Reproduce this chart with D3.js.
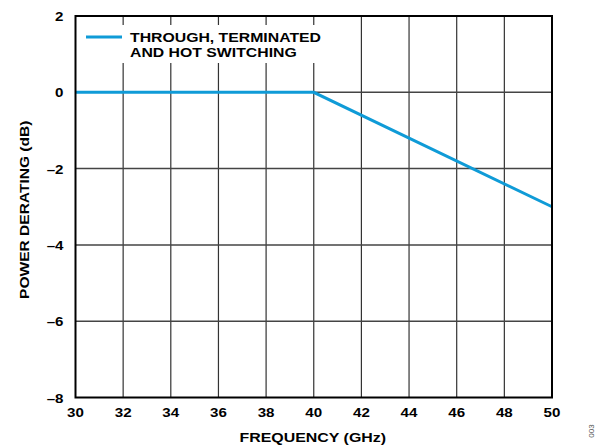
<!DOCTYPE html>
<html><head><meta charset="utf-8">
<script src="https://cdn.jsdelivr.net/npm/d3@7"></script>
<style>body{margin:0;background:#fff}text{font-family:Arial,"Liberation Sans",sans-serif;font-weight:bold}</style>
</head><body>
<svg id="c" width="600" height="447"></svg>
<script>
const freq = [30, 40, 50];
const derating = [0, 0, -3];
const xTicks = [30, 32, 34, 36, 38, 40, 42, 44, 46, 48, 50];
const yTicks = [2, 0, -2, -4, -6, -8];
const legendLines = ["THROUGH, TERMINATED", "AND HOT SWITCHING"];

const svg = d3.select("#c");
const L = 75.5, R = 552, T = 16, B = 397.5;
const x = d3.scaleLinear().domain([30, 50]).range([L, R]);
const y = d3.scaleLinear().domain([-8, 2]).range([B, T]);

function stretch(sel, f) {
  sel.each(function () {
    const w = this.getComputedTextLength();
    d3.select(this).attr("textLength", w * f).attr("lengthAdjust", "spacingAndGlyphs");
  });
}

// grid
svg.append("g").selectAll("line").data(xTicks.slice(1, -1)).join("line")
  .attr("x1", d => x(d)).attr("x2", d => x(d)).attr("y1", T).attr("y2", B)
  .attr("stroke", "#333").attr("stroke-width", 1.2);
svg.append("g").selectAll("line").data(yTicks.slice(1, -1)).join("line")
  .attr("x1", L).attr("x2", R).attr("y1", d => y(d)).attr("y2", d => y(d))
  .attr("stroke", "#444").attr("stroke-width", 1.5);

// legend background
svg.append("rect").attr("x", L + 2).attr("y", 25).attr("width", 265).attr("height", 38).attr("fill", "#fff");

// data line
svg.append("path").datum(freq.map((f, i) => [f, derating[i]]))
  .attr("d", d3.line().x(d => x(d[0])).y(d => y(d[1])))
  .attr("fill", "none").attr("stroke", "#0f9bd7").attr("stroke-width", 3);

// border
svg.append("rect").attr("x", L).attr("y", T).attr("width", R - L).attr("height", B - T)
  .attr("fill", "none").attr("stroke", "#000").attr("stroke-width", 2);

// legend
svg.append("line").attr("x1", 86).attr("x2", 122).attr("y1", 37).attr("y2", 37)
  .attr("stroke", "#0f9bd7").attr("stroke-width", 3);
svg.append("g").selectAll("text").data(legendLines).join("text")
  .attr("x", 130).attr("y", (d, i) => 42 + i * 14.5).attr("font-size", 13.5).text(d => d)
  .call(stretch, 1.17);

// axes labels
svg.append("g").selectAll("text").data(xTicks).join("text")
  .attr("x", d => x(d)).attr("y", 417).attr("text-anchor", "middle").attr("font-size", 13.5)
  .text(d => d).call(stretch, 1.12);
svg.append("g").selectAll("text").data(yTicks).join("text")
  .attr("x", 63.5).attr("y", d => y(d) + 5).attr("text-anchor", "end").attr("font-size", 13.5)
  .text(d => d < 0 ? "\u2013" + Math.abs(d) : d).call(stretch, 1.12);

svg.append("text").attr("x", (L + R) / 2 - 1).attr("y", 442).attr("text-anchor", "middle")
  .attr("font-size", 13.5).text("FREQUENCY (GHz)").call(stretch, 1.18);
svg.append("text").attr("transform", `translate(29,${(T + B) / 2 + 3}) rotate(-90)`)
  .attr("text-anchor", "middle").attr("font-size", 13.5).text("POWER DERATING (dB)")
  .call(stretch, 1.15);

svg.append("text").attr("transform", "translate(594,431) rotate(-90)")
  .attr("text-anchor", "middle").attr("font-size", 8)
  .attr("fill", "#555").style("font-weight", "normal").text("003");
</script>
</body></html>
